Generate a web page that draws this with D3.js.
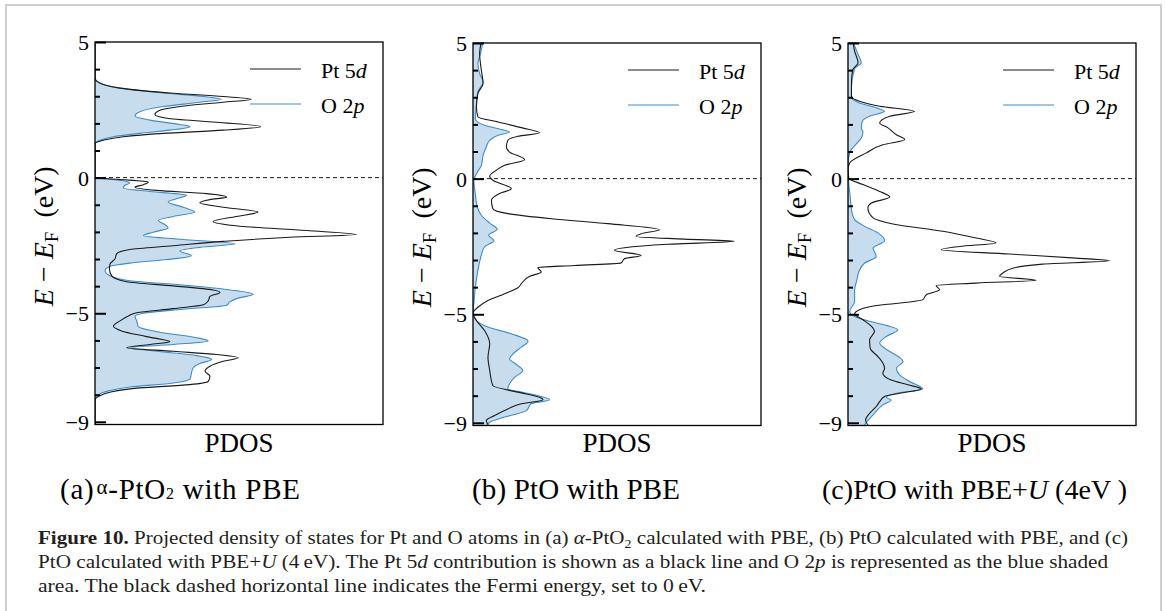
<!DOCTYPE html>
<html>
<head>
<meta charset="utf-8">
<script src="https://cdn.jsdelivr.net/npm/d3@7"></script>
<style>
  body { margin: 0; background: #fff; }
  svg { display: block; }
  svg text { font-family: "Liberation Serif", "Times New Roman", Times, serif; }
</style>
</head>
<body>
<svg id="fig" width="1165" height="611"></svg>
<script>
// ---- data: [energy (eV, E - E_F), PDOS (arb. units)] ----
const ptA = [[5.05,0],[3.67,0],[3.54,0.8],[3.30,8.7],[3.11,27.2],[2.99,44.5],[2.89,54.3],[2.78,44.5],[2.62,29.5],[2.46,22],[2.33,20.8],[2.19,24.9],[2.04,42.2],[1.88,57.5],[1.75,44.5],[1.63,23.7],[1.51,9.8],[1.38,2.9],[1.26,0],
  [0.0,0],[-0.06,7.5],[-0.16,18.5],[-0.26,16.8],[-0.35,13.9],[-0.47,21.4],[-0.59,38.7],[-0.72,45.7],[-0.81,39.9],[-0.93,36.4],[-1.09,44.5],[-1.27,56.6],[-1.43,49.1],[-1.62,41],[-1.79,50.3],[-1.95,73.4],[-2.10,90.8],[-2.20,67.6],[-2.35,44.5],[-2.51,27.2],[-2.65,12.1],[-2.81,7.5],[-3.00,6.9],[-3.19,5.2],[-3.37,5.0],[-3.62,5.8],[-3.84,11],[-3.99,27.2],[-4.14,41],[-4.23,43.4],[-4.38,39.9],[-4.54,39.3],[-4.69,37.6],[-4.83,27.2],[-4.98,14.5],[-5.10,11.6],[-5.28,8.7],[-5.47,6.4],[-5.65,9.2],[-5.86,17.9],[-6.05,26],[-6.15,19.1],[-6.27,11],[-6.40,27.2],[-6.52,42.2],[-6.64,49.7],[-6.77,44.5],[-6.95,39.9],[-7.14,38.2],[-7.32,39.9],[-7.51,39.3],[-7.63,32.9],[-7.75,15.6],[-7.91,5.2],[-8.04,1.7],[-8.19,0],[-9.15,0]];
const oA = [[5.05,0],[3.67,0],[3.54,0.8],[3.30,8.7],[3.11,24.9],[2.99,37.6],[2.89,43.9],[2.78,36.4],[2.62,23.7],[2.43,15.6],[2.27,13.9],[2.12,19.1],[1.96,29.5],[1.88,33],[1.75,26],[1.63,15.6],[1.51,6.4],[1.38,1.7],[1.26,0],
  [0.0,0],[-0.06,5.2],[-0.14,11],[-0.20,12.1],[-0.28,10.4],[-0.38,9.8],[-0.51,19.1],[-0.65,31.8],[-0.78,28.3],[-0.90,25.4],[-1.09,30.6],[-1.27,34.7],[-1.43,27.2],[-1.58,22],[-1.73,24.3],[-1.86,25.4],[-2.01,20.2],[-2.14,16.8],[-2.26,28.3],[-2.44,48.6],[-2.57,36.4],[-2.70,29.5],[-2.88,33.5],[-3.02,24.9],[-3.15,12.1],[-3.27,5.2],[-3.43,3.5],[-3.62,5.2],[-3.80,12.1],[-3.96,30.6],[-4.14,46.8],[-4.30,54.9],[-4.46,49.1],[-4.58,46.8],[-4.70,45.7],[-4.85,30.6],[-5.00,16.8],[-5.12,13.9],[-5.28,14.5],[-5.49,15],[-5.72,23.7],[-5.90,35.3],[-6.02,39.3],[-6.15,27.2],[-6.27,12.1],[-6.40,21.4],[-6.56,35.3],[-6.70,40.5],[-6.85,36.4],[-7.01,34.1],[-7.20,33.5],[-7.42,33],[-7.57,27.2],[-7.72,12.1],[-7.88,4],[-8.04,0.8],[-8.19,0],[-9.15,0]];

const ptB = [[5.05,2.9],[4.61,2.3],[3.99,2.9],[3.51,3.5],[3.14,1.7],[2.64,1.2],[2.28,1.7],[2.09,8.7],[1.88,16.8],[1.69,23.1],[1.56,15.6],[1.41,12.1],[1.17,11.6],[0.98,12.7],[0.70,17.9],[0.49,11],[0.31,8.1],[0.09,5.8],[-0.06,6.9],[-0.37,13.3],[-0.55,9.2],[-0.80,6.4],[-1.11,6.9],[-1.29,12.1],[-1.48,27.2],[-1.66,46.8],[-1.88,64.7],[-2.03,58.4],[-2.13,56.6],[-2.23,73.4],[-2.31,90.8],[-2.42,67.6],[-2.55,52.6],[-2.64,49.1],[-2.83,58.4],[-2.95,52.6],[-3.11,51.4],[-3.20,35.3],[-3.28,22.5],[-3.44,23.7],[-3.60,19.7],[-3.87,16.8],[-4.02,15.6],[-4.24,11],[-4.49,5.2],[-4.74,1.7],[-4.96,0],[-5.23,1.2],[-5.60,4],[-6.09,5.8],[-6.58,5.2],[-7.07,5.8],[-7.63,6.9],[-7.87,15.6],[-8.06,23.1],[-8.15,24.3],[-8.30,16.8],[-8.49,12.1],[-8.73,7.5],[-8.92,4.6],[-9.15,5.8]];
const oB = [[5.05,3.5],[4.61,2.6],[4.24,1.7],[3.87,2.3],[3.57,3.5],[3.20,1.7],[2.77,1.2],[2.21,0.8],[1.97,4],[1.81,9.8],[1.72,12.7],[1.60,8.7],[1.41,5.8],[1.17,4.6],[0.86,3.5],[0.49,2.9],[0.18,1.2],[-0.06,0.3],[-0.55,0.8],[-1.05,1.5],[-1.35,2.9],[-1.64,5.8],[-1.87,8.4],[-2.09,5.4],[-2.28,7.3],[-2.52,4],[-2.89,2.7],[-3.38,1.7],[-4.00,0.8],[-4.61,0.3],[-4.96,0],[-5.23,1.2],[-5.47,5.2],[-5.72,13.3],[-5.99,19.1],[-6.21,16.8],[-6.46,13.9],[-6.64,12.7],[-6.89,15.6],[-7.07,17.3],[-7.32,14.5],[-7.56,12.7],[-7.75,12.1],[-7.87,16.8],[-8.03,23.7],[-8.15,26.6],[-8.30,20.2],[-8.55,18.5],[-8.79,11],[-8.98,5.8],[-9.15,4.6]];

const ptC = [[5.05,1.7],[4.70,2.3],[4.27,3.5],[4.02,1.7],[3.59,1.2],[3.04,1.2],[2.85,4],[2.67,11],[2.48,23.1],[2.30,14.5],[2.05,11],[1.87,13.9],[1.62,16.8],[1.44,19.7],[1.25,12.1],[0.95,6.4],[0.58,0.6],[0.33,0],[0.02,0.3],[-0.22,5.2],[-0.47,11],[-0.68,14.5],[-0.90,8.1],[-1.08,6.9],[-1.45,8.7],[-1.67,15.6],[-1.94,32.9],[-2.19,44.5],[-2.37,51.4],[-2.50,38.7],[-2.62,32.4],[-2.78,56.1],[-2.93,79.2],[-3.03,90.8],[-3.15,67.6],[-3.30,57.2],[-3.48,53.8],[-3.60,52.6],[-3.75,65.3],[-3.85,44.5],[-3.94,30.6],[-4.10,31.8],[-4.28,27.2],[-4.46,26],[-4.55,21.4],[-4.65,12.1],[-4.83,4],[-4.99,2.3],[-5.20,5.2],[-5.51,8.7],[-5.63,9.2],[-5.94,7.5],[-6.25,7.7],[-6.56,10.4],[-6.80,12.1],[-6.99,12.7],[-7.17,12.1],[-7.42,15],[-7.60,20.8],[-7.75,25.4],[-7.91,17.9],[-8.03,12.7],[-8.22,11],[-8.40,9.8],[-8.65,7.5],[-8.89,6.1],[-9.15,7.3]];
const oC = [[5.05,1.7],[4.58,3.5],[4.27,4.6],[4.06,2.3],[3.35,1.2],[2.98,1.2],[2.79,4],[2.61,9.8],[2.48,12.7],[2.30,7.5],[2.12,5],[1.87,4.6],[1.72,5.2],[1.50,4.6],[1.28,2.9],[1.01,0.8],[0.52,0],[-0.10,0.2],[-0.71,0.8],[-1.21,1.3],[-1.51,2.3],[-1.76,5.8],[-2.00,10.4],[-2.29,12.7],[-2.56,8.7],[-2.87,9.8],[-3.11,5.8],[-3.42,3.8],[-3.73,3.1],[-4.10,2.3],[-4.53,2.3],[-4.90,0.6],[-5.08,2.3],[-5.26,7.5],[-5.41,13.3],[-5.57,17.3],[-5.82,13.3],[-6.06,11],[-6.37,14.5],[-6.59,17.9],[-6.74,19.1],[-6.99,16.8],[-7.23,17.9],[-7.48,21.4],[-7.75,26],[-7.91,16.8],[-8.07,13.3],[-8.16,15],[-8.34,12.1],[-8.71,8.7],[-8.95,6.6],[-9.15,5.4]];

// ---- axis and label text ----
const energyDomain = [-9.1, 5];
const pdosDomain = [0, 100];
const minorTicks = d3.range(-9, 6);
const majorTicks = [5, 0, -5, -9];
const seriesNames = [["Pt 5", "d"], ["O 2", "p"]];

// ---- layout ----
const W = 288;
const panels = [
  { pt: ptA, o: oA, left: 95,  top: 42, bottom: 424.5 },
  { pt: ptB, o: oB, left: 473, top: 43, bottom: 425.5 },
  { pt: ptC, o: oC, left: 848, top: 43, bottom: 425.5 }
];

const BLUE = "#3f8bc8";
const BLUE_FILL = "#c7ddee";
const INK = "#1a1a1a";

const svg = d3.select("#fig");
svg.append("rect").attr("width", 1165).attr("height", 611).attr("fill", "#fff");

// outer frame around the figure
svg.append("rect")
  .attr("x", 6).attr("y", 5).attr("width", 1155).attr("height", 700)
  .attr("fill", "none").attr("stroke", "#cfcfcf").attr("stroke-width", 2);

panels.forEach((p, i) => {
  const x = d3.scaleLinear().domain(pdosDomain).range([p.left, p.left + W]);
  const y = d3.scaleLinear().domain(energyDomain).range([p.bottom, p.top]);
  const g = svg.append("g");

  const clipId = "clip" + i;
  g.append("clipPath").attr("id", clipId)
    .append("rect").attr("x", p.left).attr("y", p.top)
    .attr("width", W).attr("height", p.bottom - p.top);

  const plot = g.append("g").attr("clip-path", `url(#${clipId})`);

  const area = d3.area()
    .y(d => y(d[0])).x0(x(0)).x1(d => x(d[1]))
    .curve(d3.curveMonotoneY);
  const line = d3.line()
    .y(d => y(d[0])).x(d => x(d[1]))
    .curve(d3.curveMonotoneY);

  plot.append("path").datum(p.o).attr("d", area).attr("fill", BLUE_FILL);
  plot.append("path").datum(p.o).attr("d", line)
    .attr("fill", "none").attr("stroke", BLUE).attr("stroke-width", 1.1);
  plot.append("path").datum(p.pt).attr("d", line)
    .attr("fill", "none").attr("stroke", INK).attr("stroke-width", 1.1);

  // Fermi level
  g.append("line")
    .attr("x1", p.left).attr("x2", p.left + W)
    .attr("y1", y(0)).attr("y2", y(0))
    .attr("stroke", INK).attr("stroke-width", 1).attr("stroke-dasharray", "4,3");

  // frame
  g.append("rect")
    .attr("x", p.left).attr("y", p.top).attr("width", W).attr("height", p.bottom - p.top)
    .attr("fill", "none").attr("stroke", "#000").attr("stroke-width", 1.3);

  // energy axis with inward ticks
  const axis = d3.axisLeft(y).tickValues(minorTicks).tickSize(-5).tickPadding(6)
    .tickFormat(d => majorTicks.includes(d) ? d3.format("")(d) : "");
  const ax = g.append("g").attr("transform", `translate(${p.left},0)`).call(axis);
  ax.attr("font-family", null);
  ax.select(".domain").remove();
  ax.selectAll(".tick line")
    .attr("stroke", "#000").attr("stroke-width", 2)
    .attr("x2", d => majorTicks.includes(d) ? 11 : 5);
  ax.selectAll(".tick text")
    .attr("font-size", 22).attr("fill", "#000")
    .attr("x", -6).attr("dy", "0.34em");

  // energy axis title
  const cy = (p.top + p.bottom) / 2 + 3;
  const yt = g.append("text")
    .attr("transform", `translate(${p.left - 42},${cy}) rotate(-90)`)
    .attr("text-anchor", "middle")
    .attr("font-size", 28).attr("fill", "#000");
  yt.append("tspan").attr("font-style", "italic").text("E");
  yt.append("tspan").text(" \u2212 ");
  yt.append("tspan").attr("font-style", "italic").text("E");
  yt.append("tspan").attr("font-size", 19).attr("dy", 5).text("F");
  yt.append("tspan").attr("dy", -5).text("\u2002(eV)");

  // PDOS axis title
  g.append("text")
    .attr("x", p.left + W / 2).attr("y", 452)
    .attr("text-anchor", "middle")
    .attr("font-size", 27).attr("fill", "#000")
    .text("PDOS");

  // legend
  const legendColors = [INK, BLUE];
  seriesNames.forEach((name, k) => {
    const ly = p.top + 27 + k * 35;
    g.append("line")
      .attr("x1", p.left + 155).attr("x2", p.left + 206)
      .attr("y1", ly).attr("y2", ly)
      .attr("stroke", legendColors[k]).attr("stroke-width", 1.1);
    const t = g.append("text")
      .attr("x", p.left + 226).attr("y", ly + 9)
      .attr("font-size", 22).attr("fill", "#000");
    t.append("tspan").text(name[0]);
    t.append("tspan").attr("font-style", "italic").text(name[1]);
  });
});

// panel titles
const subY = 499;
const tA = svg.append("text").attr("x", 60).attr("y", subY)
  .attr("font-size", 29).attr("fill", "#000")
  .attr("textLength", 240).attr("lengthAdjust", "spacing");
tA.append("tspan").text("(a)");
tA.append("tspan").attr("font-size", 21).attr("dy", -5).attr("dx", 2).text("\u03b1");
tA.append("tspan").attr("dy", 5).text("-PtO");
tA.append("tspan").attr("font-size", 16).text("2");
tA.append("tspan").text(" with PBE");

svg.append("text").attr("x", 472).attr("y", subY)
  .attr("font-size", 29).attr("fill", "#000")
  .attr("textLength", 208).attr("lengthAdjust", "spacing")
  .text("(b) PtO with PBE");

const tC = svg.append("text").attr("x", 822).attr("y", subY)
  .attr("font-size", 28).attr("fill", "#000")
  .attr("textLength", 305).attr("lengthAdjust", "spacing");
tC.append("tspan").text("(c)PtO with PBE+");
tC.append("tspan").attr("font-style", "italic").text("U");
tC.append("tspan").text(" (4eV )");

// caption
const capColor = "#231f20";
const cap = [
  { y: 544, end: 1128, parts: [["Figure 10.", "b"], [" Projected density of states for Pt and O atoms in (a) ", ""], ["\u03b1", "i"], ["-PtO", ""], ["2", "sub"], [" calculated with PBE, (b) PtO calculated with PBE, and (c)", "up"]] },
  { y: 568, end: 1108, parts: [["PtO calculated with PBE+", ""], ["U", "i"], [" (4\u2009eV). The Pt 5", ""], ["d", "i"], [" contribution is shown as a black line and O 2", ""], ["p", "i"], [" is represented as the blue shaded", ""]] },
  { y: 592, end: 706, parts: [["area. The black dashed horizontal line indicates the Fermi energy, set to 0\u2009eV.", ""]] }
];
cap.forEach(line => {
  const t = svg.append("text").attr("x", 38).attr("y", line.y)
    .attr("font-size", 18).attr("fill", capColor)
    .attr("textLength", line.end - 38).attr("lengthAdjust", "spacingAndGlyphs");
  line.parts.forEach(([s, k]) => {
    const ts = t.append("tspan").text(s);
    if (k === "b") ts.attr("font-weight", "bold");
    if (k === "i") ts.attr("font-style", "italic");
    if (k === "sub") ts.attr("font-size", 12).attr("dy", 4);
    if (k === "up") ts.attr("dy", -4);
  });
});
</script>
</body>
</html>
